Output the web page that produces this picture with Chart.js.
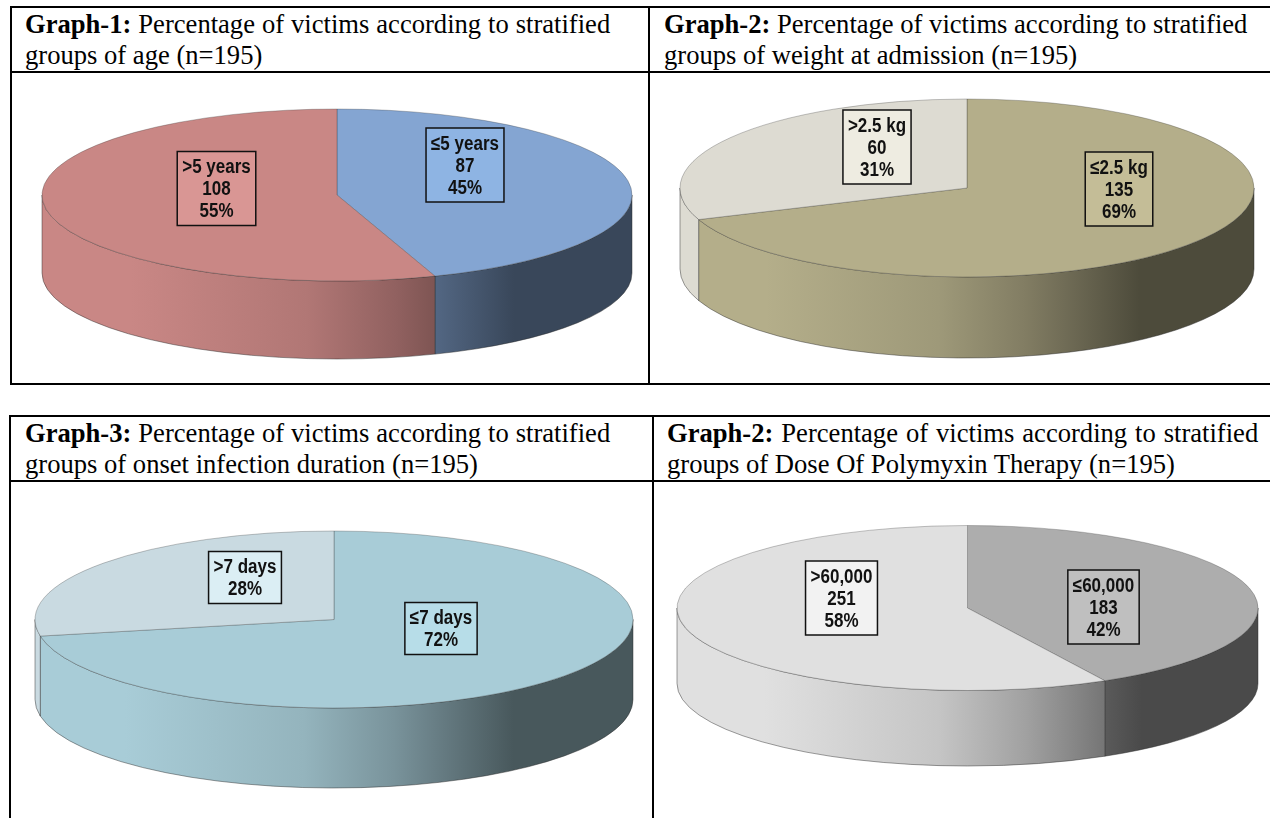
<!DOCTYPE html>
<html lang="en">
<head>
  <meta charset="UTF-8" />
  <title>Percentage of victims by stratified groups</title>
  <script src="https://cdn.jsdelivr.net/npm/chart.js"></script>
  <style>
    html, body { margin: 0; padding: 0; background: #fff; overflow: hidden; }
    body { position: relative; width: 1270px; height: 818px; font-family: 'Liberation Serif', serif; }
    .rule { position: absolute; background: #000; }
    .title { position: absolute; font-size: 26.6px; line-height: 31px; color: #000; white-space: nowrap; }
    canvas { position: absolute; }
  </style>
</head>
<body>
  <!-- upper table -->
  <div class="rule" style="left:10px;top:6px;width:1260px;height:2px"></div>
  <div class="rule" style="left:10px;top:71px;width:1260px;height:2px"></div>
  <div class="rule" style="left:10px;top:383px;width:1260px;height:2px"></div>
  <div class="rule" style="left:10px;top:6px;width:2px;height:379px"></div>
  <div class="rule" style="left:648px;top:6px;width:2px;height:379px"></div>
  <!-- lower table, open at the bottom -->
  <div class="rule" style="left:9px;top:415px;width:1261px;height:2px"></div>
  <div class="rule" style="left:9px;top:480px;width:1261px;height:2px"></div>
  <div class="rule" style="left:9px;top:415px;width:2px;height:403px"></div>
  <div class="rule" style="left:652px;top:415px;width:2px;height:403px"></div>

  <div class="title" style="left:25px;top:9px"><span style="word-spacing:.3px"><b>Graph-1:</b> Percentage of victims according to stratified</span><br>groups of age (n=195)</div>
  <div class="title" style="left:664px;top:9px"><b>Graph-2:</b> Percentage of victims according to stratified<br>groups of weight at admission (n=195)</div>
  <div class="title" style="left:25px;top:418px"><span style="word-spacing:.3px"><b>Graph-3:</b> Percentage of victims according to stratified</span><br>groups of onset infection duration (n=195)</div>
  <div class="title" style="left:667px;top:418px"><span style="word-spacing:1.3px"><b>Graph-2:</b> Percentage of victims according to stratified</span><br>groups of Dose Of Polymyxin Therapy (n=195)</div>

  <canvas id="ageChart"></canvas>
  <canvas id="weightChart"></canvas>
  <canvas id="onsetChart"></canvas>
  <canvas id="doseChart"></canvas>

  <script>
    const ageGroups = ['≤5 years', '>5 years'];
    const ageCounts = [87, 108];
    const agePercents = [45, 55];

    const weightGroups = ['≤2.5 kg', '>2.5 kg'];
    const weightCounts = [135, 60];
    const weightPercents = [69, 31];

    const onsetGroups = ['≤7 days', '>7 days'];
    const onsetPercents = [72, 28];

    const doseGroups = ['≤60,000', '>60,000'];
    const doseCounts = [183, 251];
    const dosePercents = [42, 58];

    // pie geometry: centre, radii of the ellipse, wall height, label offsets from centre
    const pies = [
      { id: 'ageChart', cx: 337, cy: 195, rx: 295, ry: 86, depth: 78,
        values: ageCounts, groups: ageGroups, counts: ageCounts, percents: agePercents,
        colors: ['#84A5D2', '#C98785'], boxColors: ['#8EB4E3', '#D99694'],
        offsets: [[128, -30], [-120.5, -6.5]] },
      { id: 'weightChart', cx: 967, cy: 188, rx: 287, ry: 89, depth: 81,
        values: weightCounts, groups: weightGroups, counts: weightCounts, percents: weightPercents,
        colors: ['#B4AE8A', '#DDDBD2'], boxColors: ['#C4BD97', '#EEECE1'],
        offsets: [[152, 1], [-90, -41]] },
      { id: 'onsetChart', cx: 334, cy: 619, rx: 299, ry: 88.5, depth: 80,
        values: onsetPercents, groups: onsetGroups, counts: null, percents: onsetPercents,
        colors: ['#A8CCD7', '#C9DAE1'], boxColors: ['#B7DDE8', '#DBEEF4'],
        offsets: [[107, 9], [-89, -42]] },
      { id: 'doseChart', cx: 967.5, cy: 608, rx: 290.5, ry: 82.5, depth: 75.5,
        values: doseCounts, groups: doseGroups, counts: doseCounts, percents: dosePercents,
        colors: ['#ADADAD', '#E0E0E0'], boxColors: ['#BFBFBF', '#F2F2F2'],
        offsets: [[136, -1], [-126, -10]] }
    ];

    // brightness along the wall, left edge to right edge
    const wallStops = [[0, 1], [0.15, 1], [0.45, 0.88], [0.6, 0.72], [0.67, 0.62], [0.8, 0.43], [1, 0.43]];

    function shade(hex, k) {
      const n = parseInt(hex.slice(1), 16);
      const c = [n >> 16, (n >> 8) & 255, n & 255].map(v => Math.round(v * k));
      return `rgb(${c[0]},${c[1]},${c[2]})`;
    }

    // squashes the library's round pie into an ellipse and puts the side wall under it
    const tiltPlugin = {
      id: 'tilt',
      beforeDatasetsDraw(chart, args, opts) {
        const ctx = chart.ctx;
        const arcs = chart.getDatasetMeta(0).data;
        const ratio = opts.ry / opts.rx;
        arcs.forEach((arc, i) => {
          const s = Math.max(arc.startAngle, 0);
          const e = Math.min(arc.endAngle, Math.PI);
          if (s >= e) return;
          const base = opts.colors[i];
          const rx = arc.outerRadius;
          const ry = rx * ratio;
          const grad = ctx.createLinearGradient(arc.x - rx, 0, arc.x + rx, 0);
          wallStops.forEach(st => grad.addColorStop(st[0], shade(base, st[1])));
          ctx.beginPath();
          ctx.ellipse(arc.x, arc.y, rx, ry, 0, s, e);
          ctx.ellipse(arc.x, arc.y + opts.depth, rx, ry, 0, e, s, true);
          ctx.closePath();
          ctx.fillStyle = grad;
          ctx.fill();
          ctx.lineWidth = 1;
          ctx.strokeStyle = 'rgba(40,40,40,0.45)';
          ctx.stroke();
        });
        const cx = chart.width / 2;
        const cy = chart.height / 2;
        ctx.save();
        ctx.translate(cx, cy);
        ctx.scale(1, ratio);
        ctx.translate(-cx, -cy);
      },
      afterDatasetsDraw(chart, args, opts) {
        const ctx = chart.ctx;
        ctx.restore();

        // value boxes
        const cx = chart.width / 2;
        const cy = chart.height / 2;
        const lineH = 22;
        const xScale = 0.85;
        ctx.font = 'bold 20px "Liberation Sans", sans-serif';
        ctx.textAlign = 'center';
        ctx.textBaseline = 'middle';
        opts.groups.forEach((group, i) => {
          const lines = [group];
          if (opts.counts) lines.push(String(opts.counts[i]));
          lines.push(opts.percents[i] + '%');
          const w = Math.max(...lines.map(t => ctx.measureText(t).width)) * xScale + 10;
          const h = lines.length * lineH + 8;
          const bx = cx + opts.offsets[i][0];
          const by = cy + opts.offsets[i][1];
          ctx.fillStyle = opts.boxColors[i];
          ctx.fillRect(bx - w / 2, by - h / 2, w, h);
          ctx.lineWidth = 1.5;
          ctx.strokeStyle = '#111';
          ctx.strokeRect(bx - w / 2, by - h / 2, w, h);
          ctx.fillStyle = '#111';
          lines.forEach((t, j) => {
            ctx.save();
            ctx.translate(bx, by - h / 2 + 4 + lineH * (j + 0.5) + 1);
            ctx.scale(xScale, 1);
            ctx.fillText(t, 0, 0);
            ctx.restore();
          });
        });
      }
    };

    pies.forEach(p => {
      const canvas = document.getElementById(p.id);
      const pad = 8;
      canvas.width = 2 * (p.rx + pad);
      canvas.height = 2 * (p.ry + p.depth + pad);
      canvas.style.left = (p.cx - p.rx - pad) + 'px';
      canvas.style.top = (p.cy - p.ry - p.depth - pad) + 'px';

      new Chart(canvas, {
        type: 'pie',
        data: {
          labels: p.groups,
          datasets: [{
            data: p.values,
            backgroundColor: p.colors,
            borderColor: 'rgba(50,50,50,0.45)',
            borderWidth: 1,
            clip: false
          }]
        },
        options: {
          responsive: false,
          animation: false,
          radius: p.rx,
          events: [],
          plugins: {
            legend: { display: false },
            tooltip: { enabled: false },
            tilt: p
          }
        },
        plugins: [tiltPlugin]
      });
    });
  </script>
</body>
</html>
